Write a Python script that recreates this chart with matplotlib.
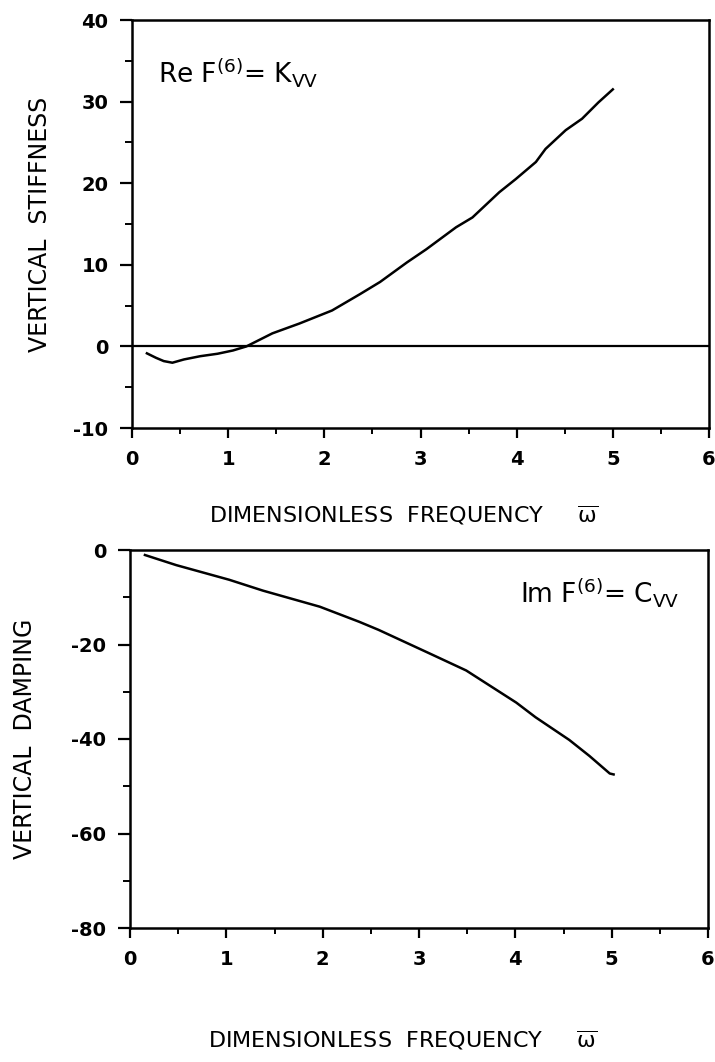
import matplotlib
matplotlib.use("Agg")
import matplotlib.pyplot as plt
from matplotlib.ticker import MultipleLocator

plt.rcParams['font.family'] = ['DejaVu Sans']
plt.rcParams['mathtext.default'] = 'regular'
plt.rcParams['axes.unicode_minus'] = False

# Вертикальная жёсткость (Re F(6) = K_VV)
stiff_freq = [0.155, 0.25, 0.33, 0.42, 0.54, 0.71, 0.89, 1.05, 1.19, 1.46,
              1.74, 2.08, 2.37, 2.58, 2.86, 3.06, 3.37, 3.54, 3.82, 3.99,
              4.20, 4.30, 4.51, 4.68, 4.85, 5.00]
stiff_vals = [-0.85, -1.4, -1.8, -2.0, -1.6, -1.2, -0.9, -0.5, 0.0, 1.6,
              2.8, 4.4, 6.4, 7.9, 10.3, 11.9, 14.6, 15.8, 18.9, 20.5,
              22.6, 24.2, 26.5, 27.9, 29.9, 31.5]

# Вертикальное демпфирование (Im F(6) = C_VV)
damp_freq = [0.155, 0.48, 1.03, 1.38, 1.97, 2.38, 2.58, 3.10, 3.49, 4.01,
             4.21, 4.56, 4.77, 4.98, 5.02]
damp_vals = [-1.06, -3.2, -6.3, -8.6, -12.0, -15.2, -16.9, -21.8, -25.5, -32.3,
             -35.4, -40.2, -43.6, -47.3, -47.5]

xlabel = 'DIMENSIONLESS  FREQUENCY     $\\overline{\\omega}$'

fig = plt.figure(figsize=(7.15, 10.62), dpi=100)
ax1 = fig.add_axes([132 / 715, 1 - 428 / 1062, 577 / 715, 408 / 1062])
ax2 = fig.add_axes([130 / 715, 1 - 928 / 1062, 578 / 715, 378 / 1062])


def style_axes(ax):
    for sp in ax.spines.values():
        sp.set_linewidth(1.8)
    ax.xaxis.set_major_locator(MultipleLocator(1))
    ax.xaxis.set_minor_locator(MultipleLocator(0.5))
    ax.tick_params(axis='x', which='major', direction='out', length=7, width=1.6, pad=9, labelsize=14)
    ax.tick_params(axis='x', which='minor', direction='out', length=4, width=1.4)
    ax.tick_params(axis='y', which='major', direction='out', length=9, width=1.6, pad=8, labelsize=14)
    ax.tick_params(axis='y', which='minor', direction='out', length=5, width=1.4)
    for lab in ax.get_xticklabels() + ax.get_yticklabels():
        lab.set_fontweight('bold')
    ax.set_xlim(0, 6)


# верхний график
ax1.plot(stiff_freq, stiff_vals, color='k', lw=1.8)
ax1.axhline(0, color='k', lw=1.6)
ax1.set_ylim(-10, 40)
ax1.yaxis.set_major_locator(MultipleLocator(10))
ax1.yaxis.set_minor_locator(MultipleLocator(5))
style_axes(ax1)
ax1.set_ylabel('VERTICAL  STIFFNESS', fontsize=17)
ax1.yaxis.set_label_coords(-0.139, 0.5)
ax1.set_xlabel(xlabel, fontsize=16, va='center')
ax1.xaxis.set_label_coords(0.471, -0.213)
ax1.text(0.045, 0.846, 'Re F$^{(6)}$= K$_{VV}$', transform=ax1.transAxes,
         fontsize=19, va='baseline', ha='left')

# нижний график
ax2.plot(damp_freq, damp_vals, color='k', lw=1.8)
ax2.set_ylim(-80, 0)
ax2.yaxis.set_major_locator(MultipleLocator(20))
ax2.yaxis.set_minor_locator(MultipleLocator(10))
style_axes(ax2)
ax2.set_ylabel('VERTICAL  DAMPING', fontsize=17)
ax2.yaxis.set_label_coords(-0.161, 0.5)
ax2.set_xlabel(xlabel, fontsize=16, va='center')
ax2.xaxis.set_label_coords(0.471, -0.296)
ax2.text(0.675, 0.862, 'Im F$^{(6)}$= C$_{VV}$', transform=ax2.transAxes,
         fontsize=19, va='baseline', ha='left')

fig.savefig('out.png', dpi=100)
